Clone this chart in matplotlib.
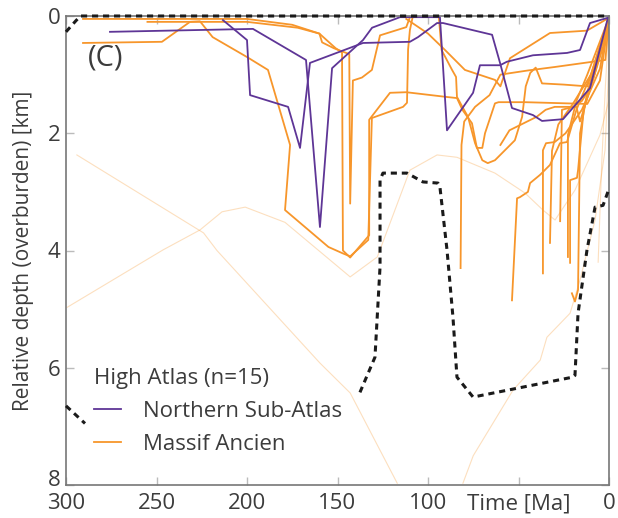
import matplotlib
matplotlib.use("Agg")
import matplotlib.pyplot as plt
import matplotlib.transforms as mtrans
import numpy as np

plt.rcParams['font.family'] = ['Open Sans', 'DejaVu Sans']

# Northern Sub-Atlas paths (time Ma, relative depth km)
nsa1_t = [275.7, 196.7, 167.4, 159.7, 153.0, 135.9, 130.9, 115.5, 93.4, 89.5, 75.1, 71.3, 60.2, 56.4, 42.0, 23.2, 16.0, 10.5, 0.6]
nsa1_d = [0.27, 0.22, 0.75, 3.6, 0.89, 0.41, 0.2, 0.02, 0.02, 1.95, 1.31, 0.84, 0.84, 0.78, 0.67, 0.63, 0.58, 0.12, 0.03]
nsa2_t = [213.3, 200.0, 198.3, 177.3, 170.7, 165.2, 135.9, 110.0, 105.5, 95.0, 91.7, 64.6, 60.2, 53.6, 42.0, 37.0, 25.4, 10.5, 0.6]
nsa2_d = [0.07, 0.41, 1.35, 1.55, 2.25, 0.8, 0.46, 0.44, 0.36, 0.12, 0.12, 0.32, 0.8, 1.57, 1.69, 1.79, 1.76, 1.23, 0.03]

# Massif Ancien paths
ma1_t = [290.6, 200, 175, 160, 151, 147.5, 147, 143, 132.5, 132.5, 121, 112, 90, 84, 81, 75.7, 73, 70, 68.5, 63, 61, 46.4, 12, 5, 0]
ma1_d = [0.05, 0.05, 0.15, 0.3, 0.55, 0.62, 4.0, 4.12, 3.74, 1.77, 1.31, 1.3, 1.38, 1.4, 1.6, 1.83, 2.25, 2.25, 2.0, 1.49, 1.47, 1.47, 1.5, 1.1, 0.03]
ma2_t = [290.6, 247, 231.5, 226, 219, 200, 188.4, 176.2, 179, 155, 147, 143, 133, 131, 113.8, 111.6, 111, 110, 108.5]
ma2_d = [0.46, 0.44, 0.1, 0.09, 0.36, 0.7, 0.92, 2.2, 3.31, 3.94, 4.05, 4.1, 3.82, 1.74, 1.55, 1.48, 0.57, 0.24, 0.02]
ma3_t = [255, 200, 172, 160, 158.5, 152, 143.5, 143, 141.5, 136.5, 131, 126.5, 112, 110]
ma3_d = [0.1, 0.1, 0.2, 0.3, 0.45, 0.55, 0.65, 3.2, 1.1, 1.05, 0.92, 0.33, 0.19, 0.02]
ma4_t = [82, 81.5, 80, 74, 66, 60, 45, 30, 2, 0]
ma4_d = [4.3, 2.2, 1.8, 1.55, 1.35, 1.0, 0.93, 0.87, 0.75, 0.03]
ma5_t = [94, 92.5, 86.7, 84.5, 84, 81, 77.9, 74, 70, 67, 63, 52, 48, 46, 43.5, 40.5, 37, 25, 12, 0]
ma5_d = [0.02, 0.58, 0.92, 1.04, 1.38, 1.55, 1.72, 2.17, 2.46, 2.51, 2.46, 2.12, 1.72, 1.2, 0.97, 0.88, 1.15, 1.17, 1.2, 0.03]
ma6_t = [112, 100, 90.6, 79.6, 63, 60, 54.7, 32.6, 12.2, 0]
ma6_d = [0.05, 0.3, 0.58, 0.92, 1.09, 1.2, 0.72, 0.29, 0.25, 0.03]
ma7_t = [53.6, 50.8, 49.2, 44.8, 43.6, 38.1, 32.6, 27.1, 23.2, 18, 10, 0]
ma7_d = [4.85, 3.11, 3.09, 3.0, 2.85, 2.71, 2.54, 2.17, 2.15, 1.6, 1.0, 0.03]
ma8_t = [36.5, 36.5, 34.8, 30, 24, 15, 5, 0]
ma8_d = [4.39, 2.29, 2.17, 2.15, 2.0, 1.6, 0.9, 0.03]
ma9_t = [32.6, 31.5, 28, 20, 8, 0]
ma9_d = [3.87, 2.3, 1.85, 1.5, 0.9, 0.03]
ma10_t = [22.7, 22.7, 18, 12, 0]
ma10_d = [4.11, 2.03, 1.45, 1.0, 0.03]
ma11_t = [21.5, 21.5, 17.7, 17.1, 14, 8, 0]
ma11_d = [4.21, 2.8, 2.76, 2.63, 1.6, 1.0, 0.03]
ma12_t = [20.5, 18.8, 17.1, 16, 12, 0]
ma12_d = [4.73, 4.87, 4.67, 2.0, 1.3, 0.03]
ma13_t = [27, 26, 20, 15, 10, 3, 0]
ma13_d = [3.5, 1.6, 1.55, 1.45, 1.2, 0.5, 0.03]
ma14_t = [60, 55, 40, 35, 30, 18, 16, 13, 0]
ma14_d = [2.2, 1.95, 1.72, 1.6, 1.55, 1.55, 1.8, 1.5, 0.03]

# faint paths
faint1_t = [294, 224, 216.6, 159.7, 143, 117]
faint1_d = [2.37, 3.7, 4.0, 5.92, 6.43, 7.97]
faint2_t = [299.4, 246.4, 226, 213.8, 201, 179, 160.8, 143, 128, 110, 95, 84, 63, 46.4, 36.5, 29.8, 18.8, 5, 0]
faint2_d = [4.97, 3.99, 3.65, 3.34, 3.26, 3.52, 3.99, 4.45, 4.11, 2.63, 2.37, 2.41, 2.68, 3.02, 3.31, 3.48, 2.97, 2.03, 1.43]
faint3_t = [80.7, 75, 53, 38, 34.3, 21.5, 16, 7.7, 2.2, 0]
faint3_d = [7.97, 7.5, 6.38, 5.87, 5.48, 5.07, 4.5, 3.48, 2.29, 0.75]
faint4_t = [6, 4, 2, 0]
faint4_d = [4.2, 2.5, 1.2, 0.1]

# envelope (dashed)
env_top_t = [300, 294.5, 292, 0]
env_top_d = [0.27, 0.08, 0.0, 0.0]
env_left_t = [300, 289.5]
env_left_d = [6.65, 6.95]
env_right_t = [0.6, 3.3, 7.7, 12.2, 17.1, 18.8, 20, 75.1, 84, 86.2, 89.5, 93.4, 94.5, 102.8, 111.6, 124.9, 126.5, 126.5, 129.3, 137.6]
env_right_d = [3.0, 3.23, 3.26, 4.0, 5.07, 6.13, 6.16, 6.5, 6.16, 5.14, 3.99, 2.92, 2.85, 2.83, 2.68, 2.68, 2.8, 4.28, 5.82, 6.42]

orange = '#F7962B'
purple = '#5E3596'
grey = '#777777'
txt = '#3c3c3c'

fig = plt.figure(figsize=(6.18, 5.18), dpi=100)
ax = fig.add_axes([66 / 618, 1 - 485 / 518, 543 / 618, 469 / 518])

for t, d in [(faint1_t, faint1_d), (faint2_t, faint2_d), (faint3_t, faint3_d), (faint4_t, faint4_d)]:
    ax.plot(t, d, color=orange, lw=0.8, alpha=0.3)

massif = [(ma1_t, ma1_d), (ma2_t, ma2_d), (ma3_t, ma3_d), (ma4_t, ma4_d), (ma5_t, ma5_d),
          (ma6_t, ma6_d), (ma7_t, ma7_d), (ma8_t, ma8_d), (ma9_t, ma9_d), (ma10_t, ma10_d),
          (ma11_t, ma11_d), (ma12_t, ma12_d), (ma13_t, ma13_d), (ma14_t, ma14_d)]
for t, d in massif:
    ax.plot(t, d, color=orange, lw=1.3)

for t, d in [(nsa1_t, nsa1_d), (nsa2_t, nsa2_d)]:
    ax.plot(t, d, color=purple, lw=1.3)

for t, d in [(env_top_t, env_top_d), (env_left_t, env_left_d), (env_right_t, env_right_d)]:
    ax.plot(t, d, color='#1a1a1a', lw=2.2, ls=(0, (2.0, 1.6)), clip_on=False, zorder=5)

ax.set_xlim(300, 0)
ax.set_ylim(8, 0)
ax.set_xticks([300, 250, 200, 150, 100, 50, 0])
ax.set_xticklabels(['300', '250', '200', '150', '100', 'Time [Ma]', '0'])
ax.set_yticks([0, 2, 4, 6, 8])
ax.tick_params(direction='in', length=6, width=1, color='#bbbbbb', labelsize=16,
               labelcolor=txt, top=True, right=True)
ax.tick_params(axis='x', pad=6)
ax.tick_params(axis='y', pad=4)
for s in ax.spines.values():
    s.set_color(grey)
    s.set_linewidth(1.2)

# lift the bottom "8" a little so it clears the "300" below it
lab8 = ax.yaxis.get_major_ticks()[-1].label1
lab8.set_transform(lab8.get_transform() + mtrans.ScaledTranslation(0, 5 / 72, fig.dpi_scale_trans))

ax.set_ylabel('Relative depth (overburden) [km]', fontsize=15, color=txt, labelpad=10)
ax.text(0.04, 0.91, '(C)', transform=ax.transAxes, fontsize=21, color=txt, va='center')

ax.plot([], [], color=purple, lw=1.3, label='Northern Sub-Atlas')
ax.plot([], [], color=orange, lw=1.3, label='Massif Ancien')
handles, labels = ax.get_legend_handles_labels()
leg = ax.legend(handles[-2:], labels[-2:], title='High Atlas (n=15)', loc='lower left',
                bbox_to_anchor=(0.035, 0.045), borderaxespad=0, frameon=False,
                fontsize=16, title_fontsize=16, handlelength=1.2, handletextpad=1.0,
                labelspacing=0.55, alignment='left')
for t in leg.get_texts():
    t.set_color(txt)
leg.get_title().set_color(txt)

fig.savefig('out.png', dpi=100)
